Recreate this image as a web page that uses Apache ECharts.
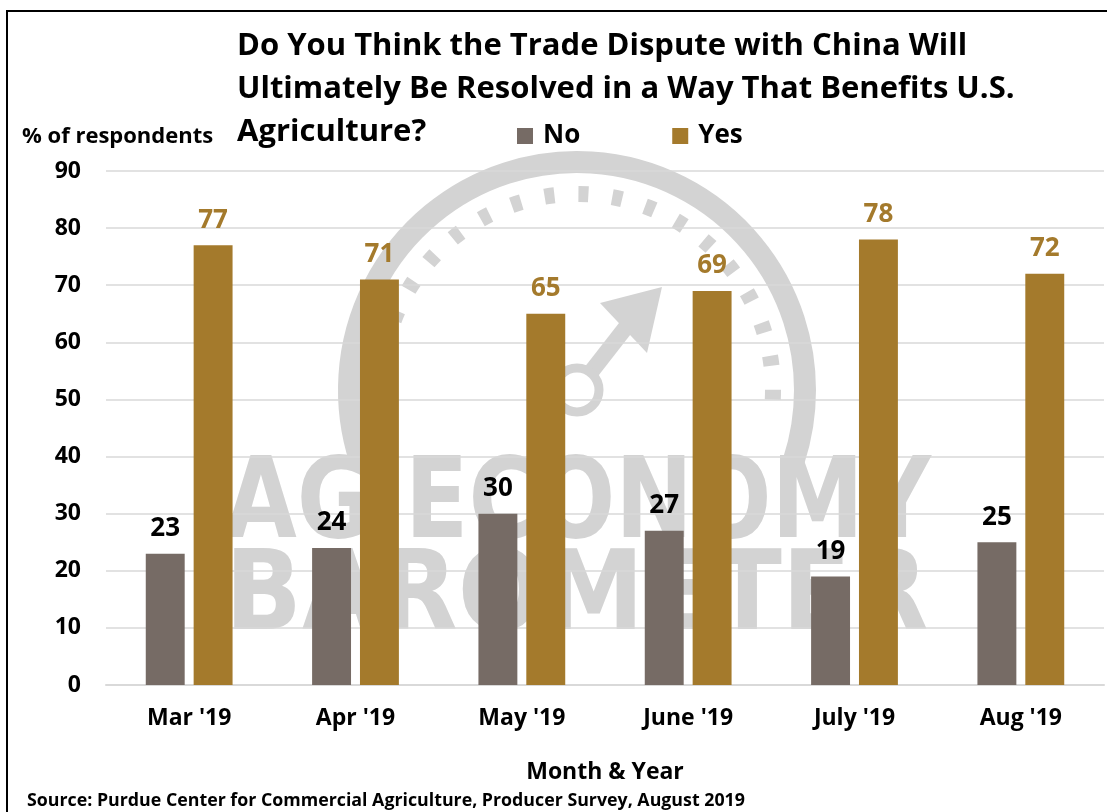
<!DOCTYPE html>
<html>
<head>
<meta charset="utf-8">
<script src="https://cdn.jsdelivr.net/npm/echarts@6/dist/echarts.min.js"></script>
<style>
  html, body { margin: 0; padding: 0; background: #fff; }
  #chart { width: 1107px; height: 812px; }
  #frame {
    position: absolute; left: 6px; top: 10px; width: 1200px; height: 900px;
    border-left: 2px solid #000; border-top: 2px solid #000; pointer-events: none;
  }
</style>
</head>
<body>
<div id="chart"></div>
<div id="frame"></div>
<script>
const months = ["Mar '19", "Apr '19", "May '19", "June '19", "July '19", "Aug '19"];
const noValues = [23, 24, 30, 27, 19, 25];
const yesValues = [77, 71, 65, 69, 78, 72];
const yTicks = { min: 0, max: 90, interval: 10 };

const NO_COLOR = "#766b65";
const YES_COLOR = "#a47a2c";
const WM = "#d3d3d3";
const FONT = "'Open Sans'";

const chart = echarts.init(document.getElementById("chart"), null, { renderer: "canvas" });

// faint logo behind the plot
const watermark = [
  {
    type: "arc", z: -10, silent: true,
    shape: { cx: 577, cy: 390, r: 228, startAngle: Math.PI * 0.9, endAngle: Math.PI * 2.1 },
    style: { stroke: WM, lineWidth: 22, fill: null },
  },
  {
    type: "arc", z: -10, silent: true,
    shape: { cx: 577, cy: 390, r: 196, startAngle: Math.PI * 0.95, endAngle: Math.PI * 2.05 },
    style: { stroke: WM, lineWidth: 16, fill: null, lineDash: [10, 24] },
  },
  {
    type: "line", z: -10, silent: true,
    shape: { x1: 577, y1: 390, x2: 630, y2: 322 },
    style: { stroke: WM, lineWidth: 16 },
  },
  {
    type: "polygon", z: -10, silent: true,
    shape: { points: [[662, 287], [600, 303], [647, 353]] },
    style: { fill: WM },
  },
  {
    type: "circle", z: -10, silent: true,
    shape: { cx: 577, cy: 390, r: 22 },
    style: { stroke: WM, lineWidth: 9, fill: "#fff" },
  },
  {
    type: "text", z: -10, silent: true, x: 225, y: 452, scaleX: 0.92,
    style: { text: "AG ECONOMY", fill: WM, font: "bold 112px 'DejaVu Sans Condensed'", textVerticalAlign: "top" },
  },
  {
    type: "text", z: -10, silent: true, x: 225, y: 545, scaleX: 1.02,
    style: { text: "BAROMETER", fill: WM, font: "bold 110px 'DejaVu Sans Condensed'", textVerticalAlign: "top" },
  },
];

const labels = [
  {
    type: "text", left: 22, top: 126,
    style: { text: "% of respondents", fill: "#000", font: `bold 22px ${FONT}` },
  },
  {
    type: "text", left: 27, top: 792,
    style: { text: "Source: Purdue Center for Commercial Agriculture, Producer Survey, August 2019", fill: "#000", font: `bold 17.8px ${FONT}` },
  },
];

const option = {
  backgroundColor: "#fff",
  animation: false,
  title: {
    text: "Do You Think the Trade Dispute with China Will\nUltimately Be Resolved in a Way That Benefits U.S.\nAgriculture?",
    left: 232,
    top: 20,
    textStyle: { color: "#000", fontFamily: FONT, fontWeight: "bold", fontSize: 31, lineHeight: 43 },
  },
  legend: {
    left: 512,
    top: 118,
    icon: "rect",
    itemWidth: 16,
    itemHeight: 16,
    itemGap: 92,
    textStyle: { color: "#000", fontFamily: FONT, fontWeight: "bold", fontSize: 26, padding: [0, 0, 0, 5] },
    data: ["No", "Yes"],
  },
  graphic: [...watermark, ...labels],
  grid: { left: 106, right: 3, top: 171, bottom: 127 },
  xAxis: {
    type: "category",
    data: months,
    name: "Month & Year",
    nameLocation: "middle",
    nameGap: 76,
    nameTextStyle: { color: "#000", fontFamily: FONT, fontWeight: "bold", fontSize: 23 },
    axisLine: { lineStyle: { color: "#d9d9d9", width: 2 } },
    axisTick: { show: false },
    axisLabel: { color: "#000", fontFamily: FONT, fontWeight: "bold", fontSize: 23, margin: 22 },
  },
  yAxis: {
    type: "value",
    min: yTicks.min,
    max: yTicks.max,
    interval: yTicks.interval,
    axisLine: { show: false },
    axisTick: { show: false },
    axisLabel: { color: "#000", fontFamily: FONT, fontWeight: "bold", fontSize: 23, margin: 25 },
    splitLine: { lineStyle: { color: "#d9d9d9", width: 1.5 } },
  },
  series: [
    {
      name: "No",
      type: "bar",
      data: noValues,
      barWidth: "23.4%",
      barGap: "23%",
      itemStyle: { color: NO_COLOR },
      label: { show: true, position: "top", distance: 12, color: "#000", fontFamily: FONT, fontWeight: "bold", fontSize: 26 },
    },
    {
      name: "Yes",
      type: "bar",
      data: yesValues,
      barWidth: "23.4%",
      itemStyle: { color: YES_COLOR },
      label: { show: true, position: "top", distance: 12, color: YES_COLOR, fontFamily: FONT, fontWeight: "bold", fontSize: 26 },
    },
  ],
};

chart.setOption(option);
</script>
</body>
</html>
